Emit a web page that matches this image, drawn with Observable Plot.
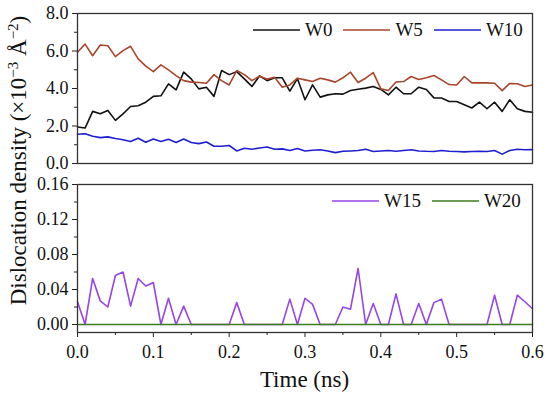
<!DOCTYPE html>
<html>
<head>
<meta charset="utf-8">
<script src="https://cdn.jsdelivr.net/npm/d3@7"></script>
<script src="https://cdn.jsdelivr.net/npm/@observablehq/plot@0.6"></script>
<style>
  html, body { margin: 0; padding: 0; background: #fff; }
  #chart { position: relative; width: 550px; height: 397px; font-family: "Liberation Serif", "Times New Roman", serif; color: #111; overflow: hidden; }
  #chart > svg { position: absolute; left: 0; font-family: "Liberation Serif", "Times New Roman", serif !important; }
  #chart svg text { font-family: "Liberation Serif", "Times New Roman", serif !important; }
  .lbl { position: absolute; white-space: nowrap; font-size: 23px; line-height: 23px; }
  .legend { position: absolute; font-size: 19px; line-height: 19px; display: flex; align-items: center; white-space: nowrap; width: 320px; }
  .legend svg.sw { display: block; flex: 0 0 47px; width: 47px; height: 6px; margin-right: 5px; overflow: visible; }
  .legend .item { display: flex; flex: 0 0 auto; align-items: center; margin-right: 11px; }
</style>
</head>
<body>
<div id="chart"></div>
<script>
// ---- data ----
const time = [0.00,0.01,0.02,0.03,0.04,0.05,0.06,0.07,0.08,0.09,0.10,
  0.11,0.12,0.13,0.14,0.15,0.16,0.17,0.18,0.19,0.20,
  0.21,0.22,0.23,0.24,0.25,0.26,0.27,0.28,0.29,0.30,
  0.31,0.32,0.33,0.34,0.35,0.36,0.37,0.38,0.39,0.40,
  0.41,0.42,0.43,0.44,0.45,0.46,0.47,0.48,0.49,0.50,
  0.51,0.52,0.53,0.54,0.55,0.56,0.57,0.58,0.59,0.60];

const W0 = [1.95,1.89,2.78,2.65,2.83,2.30,2.65,3.04,3.08,3.27,3.58,
  3.61,4.25,3.93,4.87,4.51,3.98,4.07,3.58,4.96,4.74,
  4.90,4.51,4.11,4.67,4.42,4.57,4.57,3.86,4.53,3.40,
  4.19,3.54,3.66,3.72,3.70,3.89,3.96,4.02,4.11,3.95,
  3.66,4.07,3.72,3.72,4.07,3.95,3.50,3.49,3.31,3.31,
  3.13,2.96,3.27,2.92,3.27,2.78,3.40,2.92,2.78,2.73];

const W5 = [5.93,6.37,5.75,6.32,6.28,5.70,6.02,6.25,5.58,5.19,4.90,
  5.26,4.99,4.69,4.42,4.34,4.32,4.28,4.74,4.42,4.19,
  4.96,4.74,4.42,4.65,4.50,4.60,4.07,4.19,4.55,4.46,
  4.37,4.55,4.46,4.34,4.57,4.87,4.32,4.55,4.85,3.98,
  3.89,4.35,4.37,4.64,4.48,4.57,4.69,4.46,4.21,4.19,
  4.64,4.30,4.30,4.30,4.28,3.89,4.27,4.25,4.11,4.19];

const W10 = [1.56,1.59,1.45,1.38,1.42,1.33,1.27,1.17,1.35,1.13,1.31,
  1.17,1.29,1.12,1.31,1.12,1.06,1.15,0.92,0.92,0.96,
  0.67,0.81,0.76,0.83,0.88,0.76,0.78,0.69,0.80,0.67,
  0.71,0.73,0.67,0.58,0.65,0.67,0.69,0.76,0.64,0.67,
  0.69,0.65,0.69,0.73,0.67,0.65,0.64,0.69,0.65,0.64,
  0.62,0.64,0.65,0.64,0.69,0.50,0.69,0.76,0.73,0.74];

const W15 = [0.026,0,0.0526,0.027,0.020,0.056,0.060,0.021,0.0526,0.044,0.048,
  0,0.030,0,0.021,0,0,0,0,0,0,
  0.025,0,0,0,0,0,0,0.029,0,0.030,
  0.023,0,0,0,0.020,0.0175,0.064,0,0.024,0,
  0,0.035,0,0,0.024,0,0.025,0.029,0,0,
  0,0,0,0,0.0335,0,0,0.0335,0.026,0.018];

const W20 = [0,0,0,0,0,0,0,0,0,0,0,
  0,0,0,0,0,0,0,0,0,0,
  0,0,0,0,0,0,0,0,0,0,
  0,0,0,0,0,0,0,0,0,0,
  0,0,0,0,0,0,0,0,0,0,
  0,0,0,0,0,0,0,0,0,0];

const topSeries = ["W0", "W5", "W10"];
const bottomSeries = ["W15", "W20"];
const seriesValues = {W0, W5, W10, W15, W20};
const colors = {W0: "#111111", W5: "#a8452b", W10: "#1f1fd0", W15: "#9645e6", W20: "#3f7d1c"};

const xTicks = [0, 0.1, 0.2, 0.3, 0.4, 0.5, 0.6];
const xMinor = [0.05, 0.15, 0.25, 0.35, 0.45, 0.55];
const yTopTicks = [0, 2, 4, 6, 8];
const yTopMinor = [1, 3, 5, 7];
const yBotTicks = [0, 0.04, 0.08, 0.12, 0.16];
const yBotMinor = [0.02, 0.06, 0.10, 0.14];

const rows = names => names.flatMap(name => seriesValues[name].map((v, i) => ({t: time[i], v, name})));

const chart = document.getElementById("chart");
const W = 550, mL = 77, mR = 18;
const serif = "'Liberation Serif', 'Times New Roman', serif";
const font = {fontFamily: serif, fontSize: "18px", color: "#111", background: "transparent", overflow: "visible"};
const tickFont = {fontSize: 18, fontFamily: serif, fill: "#111"};

// top panel
const topPlot = Plot.plot({
  width: W, height: 165,
  marginLeft: mL, marginRight: mR, marginTop: 13, marginBottom: 2,
  style: font,
  x: {domain: [0, 0.6], axis: null},
  y: {domain: [0, 8]},
  color: {domain: topSeries, range: topSeries.map(s => colors[s])},
  marks: [
    Plot.line(rows(topSeries), {x: "t", y: "v", z: "name", stroke: "name", strokeWidth: 1.6}),
    Plot.axisY({ticks: yTopTicks, tickFormat: d3.format(".1f"), tickSize: 5, label: null, stroke: "#222", ...tickFont}),
    Plot.axisY({ticks: yTopMinor, tickSize: 3, text: null, label: null, stroke: "#222"}),
    Plot.frame({stroke: "#333", strokeWidth: 1.3})
  ]
});
topPlot.style.top = "0px";
chart.appendChild(topPlot);

// bottom panel
const botPlot = Plot.plot({
  width: W, height: 232,
  marginLeft: mL, marginRight: mR, marginTop: 19, marginBottom: 65,
  style: font,
  x: {domain: [0, 0.6]},
  y: {domain: [-0.00914, 0.16]},
  color: {domain: bottomSeries, range: bottomSeries.map(s => colors[s])},
  marks: [
    Plot.line(rows(bottomSeries), {x: "t", y: "v", z: "name", stroke: "name", strokeWidth: 1.6}),
    Plot.axisY({ticks: yBotTicks, tickFormat: d3.format(".2f"), tickSize: 5, label: null, stroke: "#222", ...tickFont}),
    Plot.axisY({ticks: yBotMinor, tickSize: 3, text: null, label: null, stroke: "#222"}),
    Plot.axisX({ticks: xTicks, tickFormat: d3.format(".1f"), tickSize: 5, tickPadding: 8, label: null, stroke: "#222", ...tickFont}),
    Plot.axisX({ticks: xMinor, tickSize: 3, text: null, label: null, stroke: "#222"}),
    Plot.frame({stroke: "#333", strokeWidth: 1.3})
  ]
});
botPlot.style.top = "165px";
chart.appendChild(botPlot);

// axis titles
const xl = document.createElement("div");
xl.className = "lbl";
xl.textContent = "Time (ns)";
xl.style.left = (mL + (W - mL - mR) / 2 - 100) + "px";
xl.style.width = "200px";
xl.style.textAlign = "center";
xl.style.top = "368px";
chart.appendChild(xl);

const yl = document.createElement("div");
yl.className = "lbl";
yl.innerHTML = "Dislocation density (×10<sup style='font-size:15px;vertical-align:8px;line-height:0'>−3</sup> Å<sup style='font-size:15px;vertical-align:8px;line-height:0'>−2</sup>)";
yl.style.width = "400px";
yl.style.textAlign = "center";
yl.style.left = (18 - 200) + "px";
yl.style.top = (160 - 11.5) + "px";
yl.style.transform = "rotate(-90deg)";
yl.style.transformOrigin = "50% 50%";
chart.appendChild(yl);

// legends
const NS = "http://www.w3.org/2000/svg";
function legend(names, left, top) {
  const d = document.createElement("div");
  d.className = "legend";
  d.style.left = left + "px";
  d.style.top = top + "px";
  names.forEach(n => {
    const it = document.createElement("span");
    it.className = "item";
    const sw = document.createElementNS(NS, "svg");
    sw.setAttribute("class", "sw");
    sw.setAttribute("width", "47");
    sw.setAttribute("height", "6");
    const ln = document.createElementNS(NS, "line");
    ln.setAttribute("x1", "0"); ln.setAttribute("x2", "47");
    ln.setAttribute("y1", "3"); ln.setAttribute("y2", "3");
    ln.setAttribute("stroke", colors[n]);
    ln.setAttribute("stroke-width", "1.6");
    sw.appendChild(ln);
    it.appendChild(sw);
    const tx = document.createElement("span");
    tx.textContent = n;
    it.appendChild(tx);
    d.appendChild(it);
  });
  chart.appendChild(d);
}
legend(topSeries, 253, 20);
legend(bottomSeries, 332, 191);
</script>
</body>
</html>
